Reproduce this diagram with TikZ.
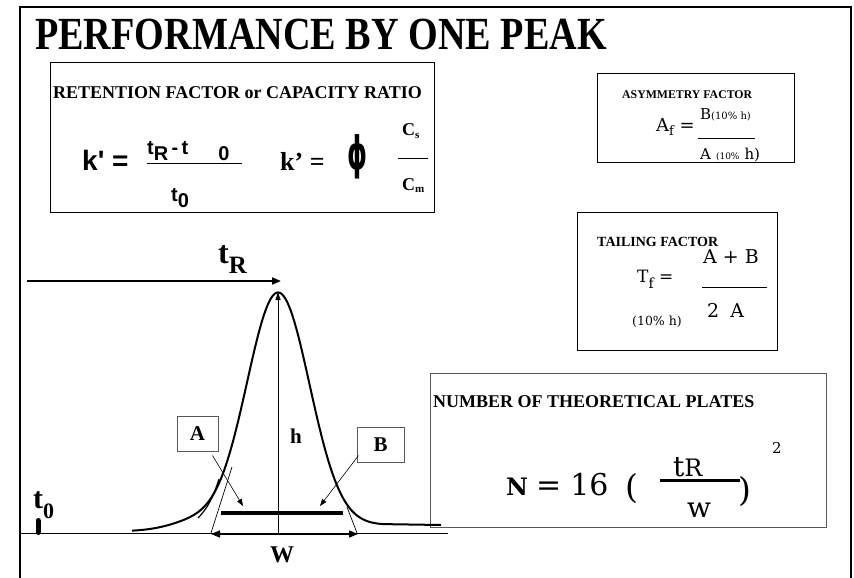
\documentclass[tikz,border=0pt]{standalone}
\usepackage{fontspec}
\setmainfont{Liberation Serif}
\newfontfamily\sansfam{Liberation Sans}
\newfontfamily\centfam{DejaVu Serif}
\newfontfamily\symfam{DejaVu Sans}
\usetikzlibrary{arrows.meta}
\newcommand{\fsz}[1]{\fontsize{#1}{#1}\selectfont}

\begin{document}
\begin{tikzpicture}[x=1pt,y=-1pt,
  frame/.style={line width=2.5pt},
  fbox/.style={draw, line width=1pt},
  lbox/.style={draw=black!65, line width=1pt, inner sep=0pt,
    font=\fsz{21}\bfseries},
  txt/.style={inner sep=0pt, anchor=base west},
  head/.style={txt, font=\fsz{18}\bfseries},
  small head/.style={txt, font=\fsz{#1}\bfseries},
  cent/.style={txt, font=\fsz{#1}\centfam},
  pointer/.style={-{Triangle[length=7pt,width=5pt]}, line width=0.6pt},
  bigarrow/.style={-{Triangle[length=9pt,width=7pt]}, line width=2pt},
  peak/.style={line width=2pt}]
  \useasboundingbox (0,0) rectangle (854,578);
  % 1. outer frame and title
  \draw[frame] (20,578) -- (20,7) -- (851,7) -- (851,578);
  \node[txt, font=\fsz{46}\bfseries] (title) at (35,49)
    {\scalebox{0.83}[1]{PERFORMANCE BY ONE PEAK}};

  % 2. retention factor box
  \draw[fbox] (50,63) rectangle (434,212);
  \node[head] (rethead) at (53,98) {RETENTION FACTOR or CAPACITY RATIO};
  \node[txt, font=\fsz{28}\sansfam\bfseries] (kone) at (82,170) {k\textquotesingle\ =};
  \node[txt, font=\fsz{20}\sansfam\bfseries] (knum) at (147,154)
    {t\raisebox{-6pt}{R}\,-\,t\hspace{30pt}\raisebox{-6pt}{0}};
  \draw[line width=1pt] (147,163) -- (242,163);
  \node[txt, font=\fsz{20}\sansfam\bfseries] (kden) at (171,201)
    {t\raisebox{-6pt}{0}};
  \node[txt, font=\fsz{26}\bfseries] (ktwo) at (280,170) {k’ =};
  \node[inner sep=0pt, font=\fsz{46}\symfam\bfseries] (phi) at (358,157)
    {\scalebox{0.55}[1]{ϕ}};
  \node[txt, font=\fsz{18}\bfseries] (cs) at (402,135) {C\raisebox{-3pt}{\fsz{11}s}};
  \draw[line width=1pt] (398,158) -- (428,158);
  \node[txt, font=\fsz{18}\bfseries] (cm) at (402,190) {C\raisebox{-2pt}{\fsz{11}m}};

  % 3. asymmetry factor box
  \draw[fbox] (597,74) rectangle (794,162);
  \node[small head=11.8] (asyhead) at (622,98) {ASYMMETRY FACTOR};
  \node[cent=18] (af) at (656,131) {A\raisebox{-4pt}{\fsz{13}f} =};
  \node[cent=15] (afnum) at (700,119) {B{\fsz{10}(10\% h)}};
  \draw[line width=0.8pt] (698,138) -- (755,138);
  \node[cent=15] (afden) at (700,159) {A\hspace{5pt}{\fsz{9}(10\%}\hspace{5pt}h)};

  % 4. tailing factor box
  \draw[fbox] (577,212) rectangle (777,350);
  \node[small head=14] (tailhead) at (597,246) {TAILING FACTOR};
  \node[cent=17] (tf) at (637,282) {T\raisebox{-6pt}{\fsz{14}f} =};
  \node[cent=12.5] (tfsub) at (632,325) {(10\% h)};
  \node[cent=19] (tfnum) at (703,263) {A + B};
  \draw[line width=0.8pt] (702,287) -- (767,287);
  \node[cent=19] (tfden) at (707,317) {2\hspace{11pt}A};

  % 5. theoretical plates box
  \draw[fbox, draw=black!65] (430,373) rectangle (826,527);
  \node[head] (nhead) at (433,407) {NUMBER OF THEORETICAL PLATES};
  \node[txt, font=\fsz{24}\centfam\bfseries] (nn) at (506,495) {N};
  \node[cent=30] (nsixteen) at (536,495) {=\hspace{9pt}16};
  \node[cent=33] (nopen) at (625,498) {(};
  \node[cent=28] (ntr) at (673,476) {t{\fsz{24}R}};
  \draw[line width=3pt] (660,480) -- (740,480);
  \node[cent=28] (nw) at (687,517) {w};
  \node[cent=33] (nclose) at (738,501) {)};
  \node[cent=15] (nsq) at (772,453) {2};

  % 6. the chromatogram
  \coordinate (origin) at (20,533);
  \coordinate (baseend) at (448,533);
  \draw[line width=0.9pt] (origin) -- (baseend);
  \draw[line width=5pt, line cap=round] (38,520.5) -- (38,532.5);
  \node[txt, font=\fsz{30}\bfseries] (tzero) at (33,508) {t\raisebox{-10pt}{\fsz{22}0}};
  \node[txt, font=\fsz{32}\bfseries] (tret) at (218,263) {t\raisebox{-10pt}{\fsz{25}R}};
  \coordinate (tRstart) at (27,281);
  \coordinate (tRend) at (281,281);
  \draw[bigarrow] (tRstart) -- (tRend);
  % peak with a little fronting and a raised tail
  \draw[peak] plot[domain=132:383, samples=140]
    (\x, {531 - 0.0239*(\x-132) - 235*exp(-0.5*(((\x-278)/31.5)^2))
          - 8*exp(-0.5*(((\x-195)/25)^2))}) -- (441,525);
  \draw[line width=1.2pt] (219,479) .. controls (213,498) and (207,509) .. (198,518);
  % tangents
  \draw[line width=0.7pt] (211,533) -- (232,467);
  \draw[line width=0.7pt] (357,533) -- (347,507);
  % height and width
  \coordinate (apex) at (278,292);
  \coordinate (hfoot) at (278,533);
  \draw[-{Triangle[length=8pt,width=5pt]}, line width=0.9pt] (hfoot) -- (apex);
  \node[txt, font=\fsz{21}\bfseries] (hlbl) at (290,443) {h};
  \coordinate (wleft) at (211,534);
  \coordinate (wright) at (358,534);
  \draw[{Triangle[length=9pt,width=7pt]}-{Triangle[length=9pt,width=7pt]}, line width=1.5pt]
    (wleft) -- (wright);
  \node[txt, font=\fsz{24}\bfseries] (wlbl) at (270,562) {W};
  \coordinate (barL) at (221,513);
  \coordinate (barR) at (343,513);
  \draw[line width=4pt] (barL) -- (barR);
  % A and B
  \node[lbox, minimum width=41pt, minimum height=35pt] (Abox) at (197.5,433.5) {A};
  \node[lbox, minimum width=47pt, minimum height=35pt] (Bbox) at (380.5,444.5) {B};
  \coordinate (Aend) at (243,506);
  \coordinate (Bend) at (320,506);
  \draw[pointer] ([xshift=-6pt,yshift=-4pt]Abox.south east) -- (Aend);
  \draw[pointer] ([xshift=2pt,yshift=7pt]Bbox.south west) -- (Bend);
\end{tikzpicture}
\end{document}
